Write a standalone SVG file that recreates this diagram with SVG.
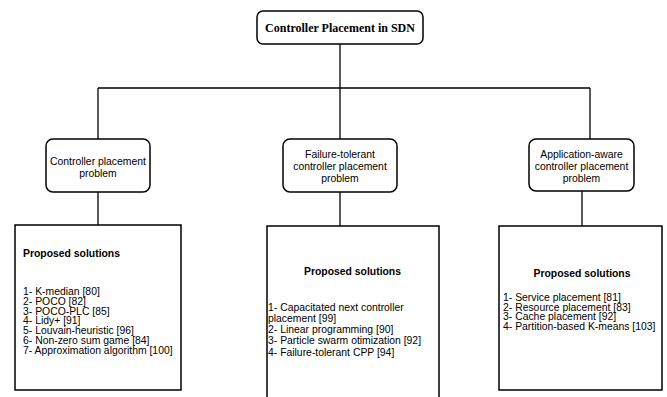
<svg xmlns="http://www.w3.org/2000/svg" width="667" height="397" viewBox="0 0 667 397">
  <style>
    .box { fill: #ffffff; stroke: #000000; stroke-width: 1.5; }
    .wire { fill: none; stroke: #000000; stroke-width: 1.3; }
    .title { font-family: "Liberation Serif", "Times New Roman", serif; font-weight: bold; font-size: 12px; fill: #000; }
    .lbl { font-family: "Liberation Sans", Arial, sans-serif; font-size: 10.4px; fill: #000; }
    .hd { font-family: "Liberation Sans", Arial, sans-serif; font-weight: bold; font-size: 10.4px; fill: #000; }
  </style>
  <rect width="667" height="397" fill="#ffffff"/>

  <!-- connectors -->
  <g id="connectors" class="wire">
    <path d="M340 44 V88"/>
    <path d="M98 88 H590"/>
    <path d="M98 88 V139"/>
    <path d="M340 88 V139"/>
    <path d="M590 88 V139"/>
    <path d="M98 192 V225"/>
    <path d="M340 192 V226"/>
    <path d="M582 191 V226"/>
  </g>

  <!-- root -->
  <g id="root">
    <rect class="box" x="257" y="11" width="166" height="33" rx="6"/>
    <text class="title" x="340" y="32" text-anchor="middle">Controller Placement in SDN</text>
  </g>

  <!-- problem categories -->
  <g id="cpp">
    <rect class="box" x="46" y="139" width="104" height="53" rx="7"/>
    <text class="lbl" text-anchor="middle"><tspan x="98" y="164.5">Controller placement</tspan><tspan x="98" y="176.5">problem</tspan></text>
  </g>
  <g id="ftcpp">
    <rect class="box" x="283" y="139" width="114" height="53" rx="7"/>
    <text class="lbl" text-anchor="middle"><tspan x="340" y="158">Failure-tolerant</tspan><tspan x="340" y="170">controller placement</tspan><tspan x="340" y="182">problem</tspan></text>
  </g>
  <g id="aacpp">
    <rect class="box" x="529" y="139" width="105" height="52" rx="7"/>
    <text class="lbl" text-anchor="middle"><tspan x="581.5" y="158">Application-aware</tspan><tspan x="581.5" y="170">controller placement</tspan><tspan x="581.5" y="182">problem</tspan></text>
  </g>

  <!-- proposed solutions -->
  <g id="sol-cpp">
    <rect class="box" x="15" y="225" width="166" height="165"/>
    <text class="hd" x="23" y="257">Proposed solutions</text>
    <text class="lbl">
      <tspan x="23" y="295">1- K-median [80]</tspan>
      <tspan x="23" y="304.8">2- POCO [82]</tspan>
      <tspan x="23" y="314.6">3- POCO-PLC [85]</tspan>
      <tspan x="23" y="324.4">4- Lidy+ [91]</tspan>
      <tspan x="23" y="334.2">5- Louvain-heuristic [96]</tspan>
      <tspan x="23" y="344">6- Non-zero sum game [84]</tspan>
      <tspan x="23" y="353.8">7- Approximation algorithm [100]</tspan>
    </text>
  </g>
  <g id="sol-ftcpp">
    <rect class="box" x="267" y="226" width="172" height="180"/>
    <text class="hd" x="352.5" y="275" text-anchor="middle">Proposed solutions</text>
    <text class="lbl">
      <tspan x="268" y="310.5">1- Capacitated next controller</tspan>
      <tspan x="268" y="321.8">placement [99]</tspan>
      <tspan x="268" y="333.1">2- Linear programming [90]</tspan>
      <tspan x="268" y="344.4">3- Particle swarm otimization [92]</tspan>
      <tspan x="268" y="355.7">4- Failure-tolerant CPP [94]</tspan>
    </text>
  </g>
  <g id="sol-aacpp">
    <rect class="box" x="499" y="226" width="163" height="164"/>
    <text class="hd" x="582" y="276.5" text-anchor="middle">Proposed solutions</text>
    <text class="lbl">
      <tspan x="503" y="301">1- Service placement [81]</tspan>
      <tspan x="503" y="310.7">2- Resource placement [83]</tspan>
      <tspan x="503" y="320.4">3- Cache placement [92]</tspan>
      <tspan x="503" y="330.1">4- Partition-based K-means [103]</tspan>
    </text>
  </g>
</svg>
